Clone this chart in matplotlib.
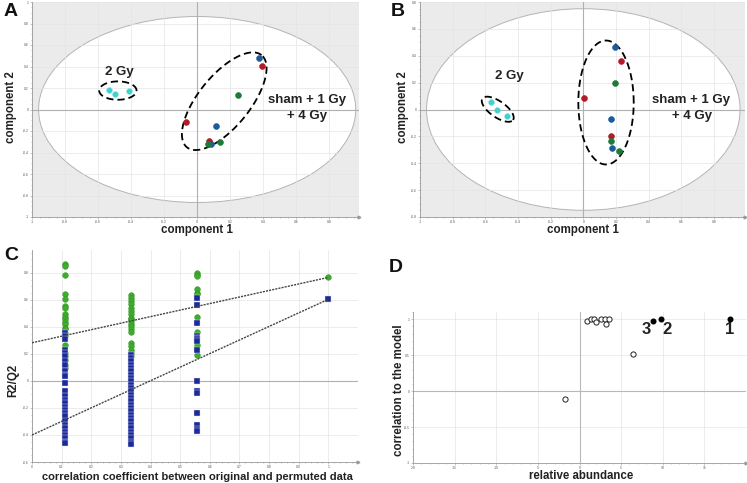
import numpy as np
import matplotlib
matplotlib.use("Agg")
import matplotlib.pyplot as plt
from matplotlib.patches import Ellipse

plt.rcParams['font.family'] = ['Liberation Sans', 'DejaVu Sans']

# ---- panel A scores (component 1, component 2)
a_cyan_x = [-0.535, -0.500, -0.414]
a_cyan_y = [0.185, 0.148, 0.176]
a_red_x = [-0.067, 0.071, 0.394]
a_red_y = [-0.117, -0.296, 0.400]
a_blue_x = [0.374, 0.117, 0.085]
a_blue_y = [0.475, -0.157, -0.318]
a_green_x = [0.246, 0.065, 0.141]
a_green_y = [0.136, -0.318, -0.302]

# ---- panel B scores
b_cyan_x = [-0.568, -0.528, -0.470]
b_cyan_y = [0.057, -0.007, -0.050]
b_red_x = [0.004, 0.229, 0.168]
b_red_y = [0.089, 0.364, -0.200]
b_blue_x = [0.192, 0.168, 0.176]
b_blue_y = [0.468, -0.074, -0.285]
b_green_x = [0.192, 0.168, 0.221]
b_green_y = [0.196, -0.238, -0.312]

# ---- panel C permutation test
perm_x = [0.111, 0.333, 0.556]
r2_perm = [
    [0.866, 0.854, 0.784, 0.643, 0.610, 0.556, 0.543, 0.494, 0.474, 0.457, 0.437,
     0.419, 0.395, 0.382, 0.357, 0.333, 0.270, 0.208, 0.184, 0.159, 0.122, 0.097],
    [0.635, 0.618, 0.593, 0.568, 0.543, 0.519, 0.494, 0.469, 0.457, 0.444, 0.419,
     0.407, 0.382, 0.362, 0.283, 0.258, 0.233, 0.208, 0.184],
    [0.799, 0.784, 0.774, 0.680, 0.655, 0.643, 0.476, 0.362, 0.263, 0.189],
]
q2_perm = [
    [0.357, 0.333, 0.308, 0.233, 0.208, 0.184, 0.146, 0.122, 0.072, 0.047, 0.035,
     -0.015, -0.077, -0.114, -0.139, -0.164, -0.189, -0.213, -0.238, -0.263, -0.300,
     -0.325, -0.350, -0.375, -0.400, -0.424, -0.449, -0.462],
    [0.196, 0.171, 0.146, 0.122, 0.097, 0.072, 0.047, 0.022, -0.002, -0.027, -0.052,
     -0.077, -0.102, -0.127, -0.151, -0.176, -0.201, -0.226, -0.251, -0.275, -0.300,
     -0.325, -0.350, -0.375, -0.400, -0.424, -0.449, -0.467],
    [0.618, 0.561, 0.427, 0.333, 0.320, 0.308, 0.295, 0.228, 0.0, -0.077, -0.089,
     -0.238, -0.325, -0.357, -0.367],
]
r2_orig = 0.767
q2_orig = 0.605
r2_icpt = 0.283
q2_icpt = -0.400

# ---- panel D S-plot
d_open_x = [-1.8, 6.4, 0.89, 1.41, 1.73, 2.02, 2.62, 3.02, 3.23, 3.55]
d_open_y = [-0.116, 0.516, 0.977, 1.0, 1.0, 0.958, 1.0, 1.0, 0.935, 1.0]
d_sel_x = [18.06, 9.8, 8.87]
d_sel_y = [1.0, 1.0, 0.98]
d_sel_lab = ['1', '2', '3']

W, H = 747, 483
fig = plt.figure(figsize=(W / 100, H / 100), dpi=100)


def add_ax(x0, y0, x1, y1):
    # pixel box (top-left origin) -> figure axes
    return fig.add_axes([x0 / W, 1 - y1 / H, (x1 - x0) / W, (y1 - y0) / H])


def style_ax(ax, xt, yt, xfmt, yfmt):
    ax.set_xticks(xt)
    ax.set_yticks(yt)
    ax.set_xticklabels([xfmt(v) for v in xt])
    ax.set_yticklabels([yfmt(v) for v in yt])
    ax.minorticks_on()
    ax.tick_params(which='both', labelsize=2.4, labelcolor='#555555', color='#999999',
                   length=1.5, width=0.4, pad=1)
    ax.tick_params(which='minor', length=0.8)
    for s in ['top', 'right']:
        ax.spines[s].set_visible(False)
    for s in ['left', 'bottom']:
        ax.spines[s].set_color('#999999')
        ax.spines[s].set_linewidth(0.6)
    ax.grid(True, color='#e4e4e4', lw=0.5)
    ax.set_axisbelow(True)
    ax.plot(1, 0, '>', ms=2, color='#999999', transform=ax.transAxes, clip_on=False)


def fmt(v):
    s = ('%.1f' % v).rstrip('0').rstrip('.')
    return '0' if s in ('-0', '') else s


def dashed_ellipse(ax, cx, cy, a, b, ang):
    # ellipse given in screen pixels around a data centre
    t = np.linspace(0, 2 * np.pi, 200)
    th = np.radians(ang)
    dx = a * np.cos(t) * np.cos(th) - b * np.sin(t) * np.sin(th)
    dy = a * np.cos(t) * np.sin(th) + b * np.sin(t) * np.cos(th)
    c = ax.transData.transform((cx, cy))
    pts = ax.transData.inverted().transform(np.column_stack([c[0] + dx, c[1] + dy]))
    ax.plot(pts[:, 0], pts[:, 1], color='black', lw=1.3, ls=(0, (4, 2.2)), zorder=4)


def score_panel(ax, ew, eh, groups):
    ax.set_facecolor('#ebebeb')
    ax.add_patch(Ellipse((0, 0), 2 * ew, 2 * eh, facecolor='white', edgecolor='#b4b4b4',
                         lw=0.7, zorder=0.4))
    ax.axhline(0, color='#b0b0b0', lw=0.8, zorder=1)
    ax.axvline(0, color='#b0b0b0', lw=0.8, zorder=1)
    for gx, gy, col, ec in groups:
        ax.scatter(gx, gy, s=18, color=col, edgecolors=ec, linewidths=0.4, zorder=5)


cols = [('#3fd0cf', '#8fe6e6'), ('#b01c2b', '#b01c2b'), ('#1d5a9c', '#1d5a9c'),
        ('#1f7a3a', '#1f7a3a')]
txt = dict(fontsize=9.5, fontweight='bold', ha='center', va='center', color='#222222')

# ---- A
axA = add_ax(32, 2, 359, 217)
axA.set_xlim(-1, 0.98)
axA.set_ylim(-1, 0.99)
style_ax(axA, np.arange(-1, 0.81, 0.2), np.arange(-1, 1.01, 0.2), fmt, fmt)
score_panel(axA, 0.96, 0.865, [(a_cyan_x, a_cyan_y) + cols[0], (a_red_x, a_red_y) + cols[1],
                               (a_blue_x, a_blue_y) + cols[2], (a_green_x, a_green_y) + cols[3]])
dashed_ellipse(axA, -0.48, 0.176, 18.7, 9.2, 0)
dashed_ellipse(axA, 0.164, 0.077, 59.3, 25.7, 51)
axA.text(-0.47, 0.35, '2 Gy', **txt)
axA.text(0.663, 0.09, 'sham + 1 Gy', **txt)
axA.text(0.667, -0.062, '+ 4 Gy', **txt)

# ---- B
axB = add_ax(420, 2, 745, 217)
axB.set_xlim(-1, 0.99)
axB.set_ylim(-0.8, 0.8)
style_ax(axB, np.arange(-1, 0.81, 0.2), np.arange(-0.8, 0.81, 0.2), fmt, fmt)
score_panel(axB, 0.96, 0.75, [(b_cyan_x, b_cyan_y) + cols[0], (b_red_x, b_red_y) + cols[1],
                              (b_blue_x, b_blue_y) + cols[2], (b_green_x, b_green_y) + cols[3]])
dashed_ellipse(axB, -0.524, 0.002, 18.7, 8.0, -35)
dashed_ellipse(axB, 0.139, 0.052, 27.7, 62, 0)
axB.text(-0.45, 0.25, '2 Gy', **txt)
axB.text(0.66, 0.07, 'sham + 1 Gy', **txt)
axB.text(0.665, -0.05, '+ 4 Gy', **txt)

# ---- C
axC = add_ax(32, 250, 358, 462)
axC.set_xlim(0, 1.1)
axC.set_ylim(-0.6, 0.97)
style_ax(axC, np.arange(0, 1.01, 0.1), np.arange(-0.6, 0.81, 0.2), fmt, fmt)
axC.axhline(0, color='#b0b0b0', lw=0.8, zorder=1)
axC.plot([0, 1], [r2_icpt, r2_orig], color='#444444', lw=1.0, ls=(0, (1.5, 0.8)), zorder=6)
axC.plot([0, 1], [q2_icpt, q2_orig], color='#444444', lw=1.0, ls=(0, (1.5, 0.8)), zorder=6)
for px, g, q in zip(perm_x, r2_perm, q2_perm):
    axC.scatter([px] * len(g), g, s=17, marker='o', color='#3dae2b', edgecolors='#2d8f20',
                linewidths=0.3, zorder=4)
    axC.scatter([px] * len(q), q, s=14, marker='s', color='#1a2a9a', edgecolors='#e0e0f0',
                linewidths=0.3, zorder=5)
axC.scatter([1], [r2_orig], s=17, marker='o', color='#3dae2b', edgecolors='#2d8f20', linewidths=0.3, zorder=4)
axC.scatter([1], [q2_orig], s=14, marker='s', color='#1a2a9a', edgecolors='#e0e0f0', linewidths=0.3, zorder=5)

# ---- D
axD = add_ax(413, 312, 746, 463)
axD.set_xlim(-20, 20)
axD.set_ylim(-1, 1.1)
style_ax(axD, np.arange(-20, 16, 5), np.arange(-1, 1.01, 0.5), lambda v: '%d' % v, fmt)
axD.axhline(0, color='#b8b8b8', lw=0.8, zorder=1)
axD.axvline(0, color='#b8b8b8', lw=0.8, zorder=1)
axD.scatter(d_open_x, d_open_y, s=14, facecolors='white', edgecolors='#222222', linewidths=0.7, zorder=4)
axD.scatter(d_sel_x, d_sel_y, s=11, color='black', zorder=4)
lab_off = {'1': (0, -0.15), '2': (0.75, -0.15), '3': (-0.85, -0.12)}
for x, y, t in zip(d_sel_x, d_sel_y, d_sel_lab):
    axD.text(x + lab_off[t][0], y + lab_off[t][1], t, fontsize=12, fontweight='bold',
             ha='center', va='center', color='#222222')

# ---- axis titles and panel letters
lab = dict(fontsize=8.3, fontweight='bold', color='#222222', ha='center', va='center')
fig.text(197 / W, 1 - 230 / H, 'component 1', **lab)
fig.text(11 / W, 1 - 107 / H, 'component 2', rotation=90, **lab)
fig.text(583 / W, 1 - 230 / H, 'component 1', **lab)
fig.text(403 / W, 1 - 107 / H, 'component 2', rotation=90, **lab)
fig.text(197 / W, 1 - 477 / H, 'correlation coefficient between original and permuted data',
         fontsize=8.0, fontweight='bold', color='#222222', ha='center', va='center')
fig.text(13 / W, 1 - 380 / H, 'R2/Q2', rotation=90, **lab)
fig.text(581 / W, 1 - 476 / H, 'relative abundance', **lab)
fig.text(399 / W, 1 - 390 / H, 'correlation to the model', rotation=90, **lab)

letter = dict(fontsize=14, fontweight='bold', color='#111111', ha='center', va='center')
fig.text(11 / W, 1 - 11 / H, 'A', **letter)
fig.text(398 / W, 1 - 11 / H, 'B', **letter)
fig.text(11 / W, 1 - 256 / H, 'C', **letter)
fig.text(396 / W, 1 - 268 / H, 'D', **letter)

fig.savefig('out.png', dpi=100)
